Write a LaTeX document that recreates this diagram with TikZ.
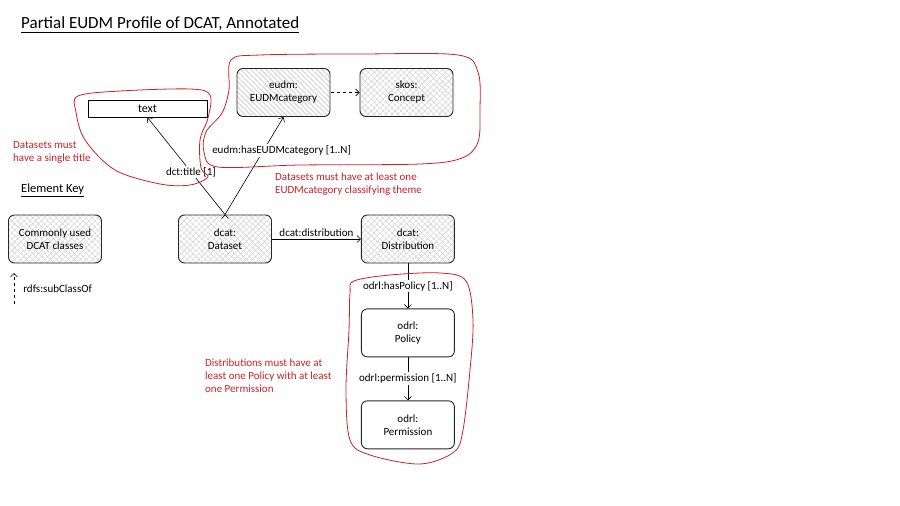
\documentclass[tikz,border=0pt]{standalone}
\usepackage{fontspec}
\setmainfont{Carlito}
\usepackage{tikz}
\definecolor{annot}{RGB}{204,32,39}
\tikzset{class node/.style={rectangle,rounded corners=6pt,draw=black!85,line width=0.9pt,minimum width=93pt,minimum height=48pt,inner sep=1pt,align=center,font=\fontsize{11}{13}\selectfont},
cross node/.style={class node,pattern={Hatch[angle=45,distance=4.2pt,line width=0.4pt]},pattern color=black!20},
hatch node/.style={class node,pattern={Lines[angle=-45,distance=3.6pt,line width=1.1pt]},pattern color=black!16},
lit node/.style={rectangle,draw=black,line width=1pt,minimum width=119pt,minimum height=17pt,inner sep=1pt,font=\fontsize{12}{13}\selectfont},
rel label/.style={fill=white,inner sep=1.5pt,font=\fontsize{11}{13}\selectfont},
note/.style={text=annot,align=left,anchor=north west,inner sep=0pt,font=\fontsize{11}{13}\selectfont},
loop/.style={draw=annot,line width=0.8pt,smooth cycle,tension=0.55},
}
\usetikzlibrary{positioning,patterns.meta,arrows.meta}

\begin{document}
\begin{tikzpicture}[x=1pt,y=-1pt,>={Straight Barb[length=3.5pt,width=7pt]}]
			\useasboundingbox (0,0) rectangle (900,506);
			
			%% title and key
			\node[anchor=west,inner sep=0pt,font=\fontsize{17}{19}\selectfont] (title) at (21,25) {\underline{Partial EUDM Profile of DCAT, Annotated}};
			\node[anchor=west,inner sep=0pt,font=\fontsize{12.5}{14}\selectfont] (keytitle) at (21,190) {\underline{Element Key}};
			\node[cross node] (key) at (55,239) {Commonly used\\DCAT classes};
			\coordinate (subfrom) at (14,304);
			\coordinate (subto) at (14,273);
			\draw[->,dashed,semithick] (subfrom) -- (subto) node[midway,right=9pt,inner sep=0pt,font=\fontsize{11}{13}\selectfont] (sublabel) {rdfs:subClassOf};
			
			%% classes
			\node[cross node] (dataset) at (225,239) {dcat:\\Dataset};
			\node[cross node] (distribution) [right = 89pt of dataset] {dcat:\\Distribution};
			\node[class node] (policy) [below = 45pt of distribution] {odrl:\\Policy};
			\node[class node] (permission) [below = 43pt of policy] {odrl:\\Permission};
			\node[hatch node] (category) at (283.5,92.5) {eudm:\\EUDMcategory};
			\node[cross node] (concept) [right = 29pt of category] {skos:\\Concept};
			\node[lit node] (title text) at (147.5,108.5) {text};
			
			\path[draw,->,semithick]
			(dataset) edge node[rel label,above=1pt,fill=none] {dcat:distribution} (distribution)
			(distribution) edge node[rel label] {odrl:hasPolicy [1..N]} (policy)
			(policy) edge node[rel label] {odrl:permission [1..N]} (permission)
			(dataset.north) edge node[rel label,pos=0.44] {dct:title [1]} (title text.south)
			(dataset.north) edge node[rel label,pos=0.66,xshift=18pt] {eudm:hasEUDMcategory [1..N]} (category.south)
			;
			\draw[->,dashed,semithick] (category) -- (concept);
			
			%% annotations
			\draw[loop] plot coordinates {(78,96) (120,91) (190,89) (210,95) (208,118) (200,140) (201,168) (208,177) (190,185) (160,184) (115,170) (85,140) (76,112)};
			\draw[loop] plot coordinates {(231,60) (260,55) (360,54) (458,55) (478,72) (480,110) (478,142) (462,158) (420,164) (300,165) (218,167) (204,152) (206,132) (222,113) (229,90)};
			\draw[loop] plot coordinates {(354,281) (390,275) (440,273) (466,281) (473,320) (470,370) (463,430) (454,452) (420,464) (370,455) (350,440) (346,390) (349,330) (350,293)};
			\node[note] (note title) at (13,141) {Datasets must\\have a single title};
			\node[note] (note category) at (275,173) {Datasets must have at least one\\EUDMcategory classifying theme};
			\node[note] (note policy) at (205,359) {Distributions must have at\\least one Policy with at least\\one Permission};
			\end{tikzpicture}
\end{document}
